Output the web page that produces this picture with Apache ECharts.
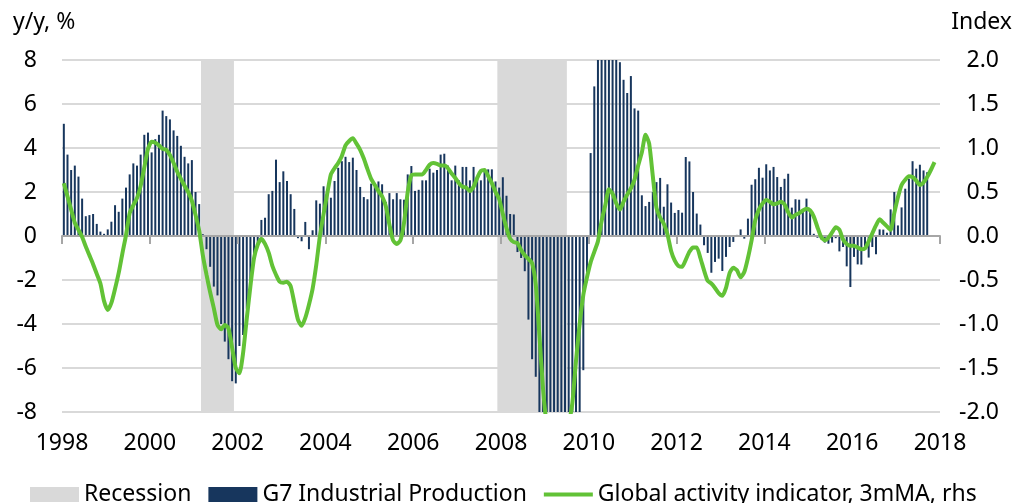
<!DOCTYPE html>
<html>
<head>
<meta charset="utf-8">
<script src="https://cdn.jsdelivr.net/npm/echarts@6/dist/echarts.min.js"></script>
<style>
  html, body { margin: 0; padding: 0; background: #fff; }
  #chart { width: 1014px; height: 503px; }
</style>
</head>
<body>
<div id="chart"></div>
<script>
var startYear = 1998;

// G7 industrial production, y/y %, monthly from Jan 1998 (lhs)
var g7Production = [
    5.1, 3.7, 3.0, 3.2, 2.7, 1.7, 0.9, 0.95, 1.0, 0.55, 0.2, 0.1,          // 1998
    0.3, 0.65, 1.4, 1.1, 1.7, 2.2, 2.8, 3.3, 3.2, 3.7, 4.6, 4.7,           // 1999
    3.8, 4.4, 4.6, 5.7, 5.45, 5.3, 4.8, 4.55, 4.1, 3.6, 3.3, 3.45,         // 2000
    2.0, 1.45, 0.08, -0.6, -1.4, -2.3, -2.7, -4.0, -4.8, -5.6, -6.6, -6.7, // 2001
    -5.0, -4.5, -3.3, -2.45, -1.0, -0.4, 0.73, 0.83, 1.9, 2.05, 3.47, 2.45,// 2002
    2.94, 2.5, 1.9, 1.23, -0.1, -0.24, 0.64, -0.6, 0.26, 1.62, 1.47, 2.26, // 2003
    2.05, 1.74, 2.5, 3.1, 3.4, 3.6, 3.36, 3.56, 3.0, 2.23, 1.77, 1.67,     // 2004
    2.38, 2.23, 2.48, 2.35, 1.55, 1.95, 1.67, 1.95, 1.67, 1.65, 2.8, 3.18, // 2005
    2.05, 2.1, 2.53, 2.53, 3.06, 2.88, 3.0, 3.7, 3.74, 3.2, 2.53, 3.2,     // 2006
    2.53, 3.14, 3.14, 2.53, 3.14, 2.6, 2.53, 3.02, 3.03, 3.03, 2.48, 2.2,  // 2007
    2.67, 1.83, 1.0, 0.98, -0.73, -1.0, -1.6, -3.8, -5.6, -6.4, -9.5, -12.5, // 2008
    -15, -17, -17.5, -17, -16, -15, -13, -12, -10.5, -8.8, -6.1, -2.1,     // 2009
    3.77, 6.8, 8.6, 9.5, 9.8, 9.2, 8.8, 8.3, 7.9, 7.1, 6.5, 7.27,          // 2010
    5.8, 5.7, 1.85, 1.36, 1.55, 2.0, 2.45, 2.64, 1.33, 2.35, 1.52, 1.05,   // 2011
    1.18, 1.06, 3.59, 3.39, 2.0, 1.02, 0.52, -0.42, -0.77, -1.67, -1.18, -1.03, // 2012
    -1.59, -0.95, -0.5, -0.27, 0.05, 0.3, -0.12, 0.79, 2.33, 2.58, 3.1, 2.65,   // 2013
    3.26, 2.98, 3.14, 2.68, 2.23, 2.6, 2.83, 1.29, 1.67, 1.65, 1.17, 1.7,  // 2014
    1.2, 0.1, -0.08, -0.15, -0.3, -0.35, -0.3, -0.1, -0.7, -0.5, -1.38, -2.32, // 2015
    -0.95, -1.29, -1.3, -0.6, -0.98, -0.5, -0.83, 0.3, 0.29, 0.15, 1.21, 2.0,  // 2016
    0.48, 1.3, 2.15, 2.6, 3.4, 3.06, 3.24, 2.98, 2.9                      // 2017
];

// Global activity indicator, 3mMA, index (rhs)
var activityIndex = [
    0.6, 0.45, 0.3, 0.15, 0.07, -0.01, -0.12, -0.22, -0.32, -0.43, -0.54, -0.74,
    -0.84, -0.76, -0.6, -0.42, -0.2, 0.01, 0.26, 0.35, 0.43, 0.57, 0.78, 0.99,
    1.07, 1.06, 1.03, 0.99, 0.98, 0.92, 0.83, 0.73, 0.65, 0.57, 0.5, 0.4,
    0.24, 0.06, -0.22, -0.44, -0.64, -0.82, -1.01, -1.06, -1.01, -1.05, -1.27, -1.5,
    -1.56, -1.33, -0.94, -0.57, -0.25, -0.1, -0.03, -0.09, -0.19, -0.34, -0.44, -0.52,
    -0.53, -0.52, -0.57, -0.76, -0.95, -1.02, -0.93, -0.78, -0.6, -0.33, 0.0, 0.25,
    0.48, 0.7, 0.77, 0.83, 0.91, 1.03, 1.08, 1.11, 1.05, 0.98, 0.88, 0.76,
    0.65, 0.58, 0.51, 0.45, 0.34, 0.13, -0.05, -0.09, -0.05, 0.15, 0.5, 0.69,
    0.7, 0.7, 0.7, 0.75, 0.81, 0.83, 0.82, 0.8, 0.8, 0.77, 0.71, 0.66,
    0.6, 0.56, 0.55, 0.51, 0.56, 0.66, 0.74, 0.75, 0.68, 0.6, 0.5, 0.42,
    0.25, 0.09, -0.03, -0.07, -0.08, -0.16, -0.22, -0.26, -0.31, -0.55, -1.13, -1.74,
    -2.15, -2.4, -2.6, -2.6, -2.5, -2.35, -2.15, -1.9, -1.42, -1.0, -0.67, -0.47,
    -0.3, -0.18, -0.06, 0.17, 0.35, 0.53, 0.48, 0.37, 0.3, 0.39, 0.47, 0.54,
    0.64, 0.8, 0.95, 1.15, 1.05, 0.68, 0.32, 0.21, 0.14, 0.02, -0.17, -0.28,
    -0.34, -0.35, -0.27, -0.18, -0.13, -0.13, -0.25, -0.39, -0.51, -0.54, -0.59, -0.65,
    -0.68, -0.59, -0.42, -0.36, -0.39, -0.47, -0.41, -0.25, -0.05, 0.18, 0.3, 0.37,
    0.41, 0.39, 0.36, 0.37, 0.39, 0.36, 0.27, 0.21, 0.24, 0.26, 0.29, 0.31,
    0.29, 0.22, 0.1, -0.01, -0.05, -0.02, 0.04, 0.1, 0.07, -0.04, -0.09, -0.11,
    -0.11, -0.13, -0.15, -0.14, -0.06, 0.03, 0.12, 0.19, 0.15, 0.11, 0.07, 0.26,
    0.44, 0.58, 0.64, 0.68, 0.67, 0.63, 0.58, 0.61, 0.67, 0.75, 0.84
];

// recession periods (decimal years)
var recessions = [[2001 + 2 / 12, 2001 + 11 / 12], [2007 + 11 / 12, 2009.5]];

var fontName = 'Noto Sans';
var textColor = '#000';

function monthly(values) {
    return values.map(function (v, i) {
        return [startYear + (i + 0.5) / 12, v];
    });
}

var option = {
    animation: false,
    textStyle: { fontFamily: fontName },
    grid: { left: 62, right: 74, top: 60, bottom: 91 },
    graphic: [
        { type: 'text', left: 13, top: 11, style: { text: 'y/y, %', fontSize: 23, fontFamily: fontName, fill: textColor } },
        { type: 'text', right: 2, top: 11, style: { text: 'Index', fontSize: 23, fontFamily: fontName, fill: textColor } }
    ],
    legend: {
        left: 25,
        top: 478,
        itemWidth: 49,
        itemHeight: 15,
        itemGap: 17,
        textStyle: { fontSize: 23, color: textColor, fontFamily: fontName },
        data: [
            { name: 'Recession', icon: 'rect' },
            { name: 'G7 Industrial Production', icon: 'rect' },
            { name: 'Global activity indicator, 3mMA, rhs', icon: 'path://M0,0 L49,0 L49,4 L0,4 Z' }
        ]
    },
    xAxis: [
        {
            type: 'value', min: 1998, max: 2018, interval: 2, position: 'bottom',
            axisLine: { show: false, onZero: false },
            axisTick: { show: false },
            splitLine: { show: false },
            axisLabel: {
                fontSize: 23, color: textColor, margin: 20, fontFamily: fontName,
                formatter: function (v) { return String(v); }
            }
        },
        {
            type: 'value', min: 1998, max: 2018, interval: 2, position: 'top', z: 5,
            axisLine: { show: true, onZero: true, lineStyle: { color: '#a6a6a6', width: 2 } },
            axisTick: { show: true, inside: true, length: 8, lineStyle: { color: '#a6a6a6', width: 2 } },
            axisLabel: { show: false },
            splitLine: { show: false }
        }
    ],
    yAxis: [
        {
            type: 'value', min: -8, max: 8, interval: 2, position: 'left',
            axisLine: { show: false }, axisTick: { show: false },
            splitLine: { lineStyle: { color: '#d9d9d9', width: 2 } },
            axisLabel: { fontSize: 23, color: textColor, margin: 25, fontFamily: fontName }
        },
        {
            type: 'value', min: -2, max: 2, interval: 0.5, position: 'right',
            axisLine: { show: false }, axisTick: { show: false },
            splitLine: { show: false },
            axisLabel: {
                fontSize: 23, color: textColor, align: 'right', margin: 59, fontFamily: fontName,
                formatter: function (v) { return v.toFixed(1); }
            }
        }
    ],
    series: [
        {
            name: 'Recession',
            type: 'line',
            data: [],
            z: 1,
            itemStyle: { color: '#d9d9d9' },
            lineStyle: { color: '#d9d9d9' },
            markArea: {
                silent: true,
                itemStyle: { color: '#d9d9d9' },
                data: recessions.map(function (r) { return [{ xAxis: r[0] }, { xAxis: r[1] }]; })
            }
        },
        {
            name: 'G7 Industrial Production',
            type: 'bar',
            barWidth: 2,
            clip: true,
            z: 2,
            itemStyle: { color: '#17365d' },
            data: monthly(g7Production)
        },
        {
            name: 'Global activity indicator, 3mMA, rhs',
            type: 'line',
            yAxisIndex: 1,
            symbol: 'none',
            smooth: 0.2,
            clip: true,
            z: 6,
            itemStyle: { color: '#62c236' },
            lineStyle: { color: '#62c236', width: 4 },
            data: monthly(activityIndex)
        }
    ]
};

var myChart = echarts.init(document.getElementById('chart'));
myChart.setOption(option);
</script>
</body>
</html>
